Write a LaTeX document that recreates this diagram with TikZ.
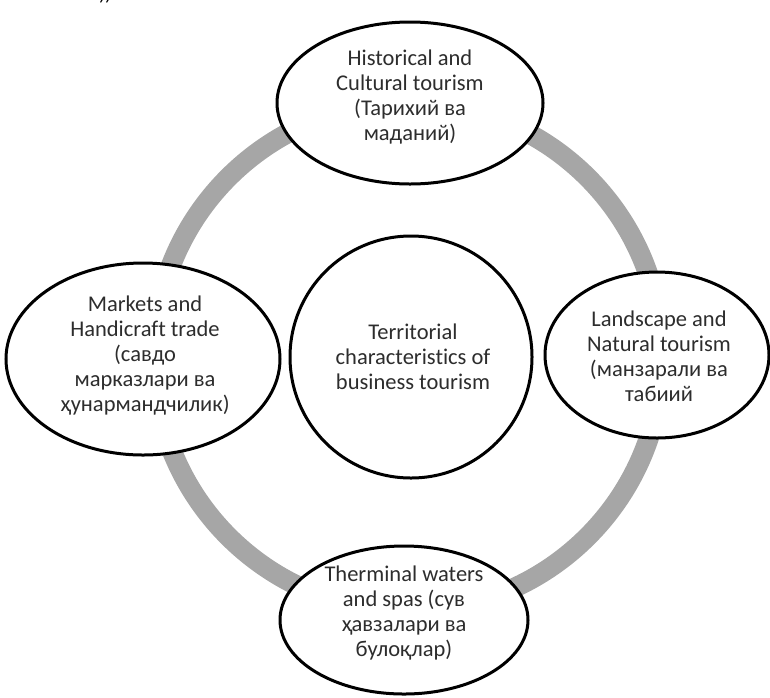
\documentclass[tikz,border=0pt]{standalone}
\usepackage{fontspec}
\setmainfont[Ligatures=CommonOff]{Carlito}
\usetikzlibrary{shapes.geometric}
\definecolor{ringgray}{RGB}{166,166,166}
\definecolor{txtgray}{RGB}{45,45,45}
\tikzset{
  bubble/.style={ellipse, draw=black, line width=3pt, fill=white, inner sep=0pt},
  label/.style={align=center, text=txtgray, font=\fontsize{22.5}{25}\selectfont, inner sep=0pt},
}
\begin{document}
\begin{tikzpicture}[x=1pt,y=-1pt]
\useasboundingbox (0,0) rectangle (770,697);
% ring
\coordinate (ringc) at (408,357);
\draw[ringgray, line width=20pt] (ringc) circle[radius=254pt];
% bubbles
\node[bubble, minimum width=266pt, minimum height=162pt] (top) at (410,103) {};
\node[bubble, minimum width=274pt, minimum height=192pt] (left) at (143,359) {};
\node[bubble, minimum width=224pt, minimum height=166pt] (right) at (657,355) {};
\node[bubble, minimum width=248pt, minimum height=148pt] (bottom) at (404,620) {};
\node[bubble, circle, minimum size=242pt] (centre) at (411,357) {};
% texts
\node[label] (toptxt) at (410,97) {Historical and\\Cultural tourism\\(Тарихий ва\\маданий)};
\node[label] (lefttxt) at (145,356) {Markets and\\Handicraft trade\\(савдо\\марказлари ва\\ҳунармандчилик)};
\node[label] (righttxt) at (659,356) {Landscape and\\Natural tourism\\(манзарали ва\\табиий};
\node[label] (bottomtxt) at (404,613) {Therminal waters\\and spas (сув\\ҳавзалари ва\\булоқлар)};
\node[label] (centretxt) at (413,357) {Territorial\\characteristics of\\business tourism};
% cropped fragment at top
\node[font=\fontsize{20}{24}\selectfont\itshape, anchor=base, inner sep=0pt] (frag) at (106,0) {))};
\end{tikzpicture}
\end{document}
